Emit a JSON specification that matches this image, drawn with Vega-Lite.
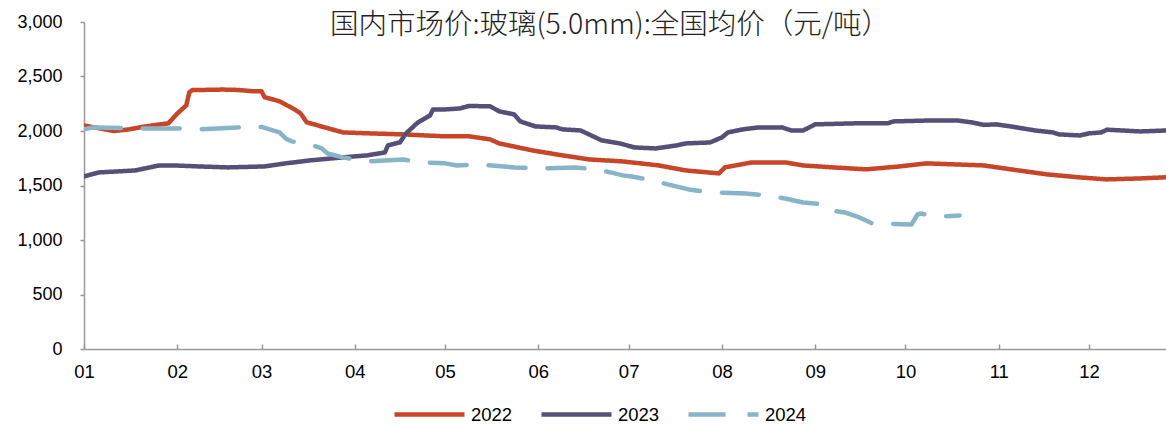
{
  "$schema": "https://vega.github.io/schema/vega-lite/v6.json",
  "width": 1082,
  "height": 327,
  "autosize": {"type": "none"},
  "padding": {"left": 84, "top": 22, "right": 0, "bottom": 75},
  "background": "white",
  "config": {"view": {"stroke": null}, "font": "Liberation Sans"},
  "title": {
    "text": "国内市场价:玻璃(5.0mm):全国均价（元/吨）",
    "anchor": "middle",
    "frame": "group",
    "offset": -26,
    "dx": -15,
    "font": "Noto Sans CJK SC",
    "fontSize": 28.5,
    "fontWeight": 300,
    "color": "#222222"
  },
  "data": {
    "values": [
      {"year": "2022", "date": "2022-01-01", "price": 2050},
      {"year": "2022", "date": "2022-01-06", "price": 2025},
      {"year": "2022", "date": "2022-01-11", "price": 2000},
      {"year": "2022", "date": "2022-01-16", "price": 2015},
      {"year": "2022", "date": "2022-01-21", "price": 2040},
      {"year": "2022", "date": "2022-01-26", "price": 2060},
      {"year": "2022", "date": "2022-01-29", "price": 2070},
      {"year": "2022", "date": "2022-02-01", "price": 2160},
      {"year": "2022", "date": "2022-02-04", "price": 2235},
      {"year": "2022", "date": "2022-02-05", "price": 2355},
      {"year": "2022", "date": "2022-02-06", "price": 2375},
      {"year": "2022", "date": "2022-02-16", "price": 2380},
      {"year": "2022", "date": "2022-02-21", "price": 2377},
      {"year": "2022", "date": "2022-02-26", "price": 2365},
      {"year": "2022", "date": "2022-03-01", "price": 2364},
      {"year": "2022", "date": "2022-03-02", "price": 2310},
      {"year": "2022", "date": "2022-03-07", "price": 2272},
      {"year": "2022", "date": "2022-03-12", "price": 2198},
      {"year": "2022", "date": "2022-03-14", "price": 2161},
      {"year": "2022", "date": "2022-03-16", "price": 2080},
      {"year": "2022", "date": "2022-03-22", "price": 2033},
      {"year": "2022", "date": "2022-03-28", "price": 1987},
      {"year": "2022", "date": "2022-04-06", "price": 1978},
      {"year": "2022", "date": "2022-04-17", "price": 1969},
      {"year": "2022", "date": "2022-05-01", "price": 1951},
      {"year": "2022", "date": "2022-05-09", "price": 1951},
      {"year": "2022", "date": "2022-05-16", "price": 1923},
      {"year": "2022", "date": "2022-05-19", "price": 1886},
      {"year": "2022", "date": "2022-05-30", "price": 1822},
      {"year": "2022", "date": "2022-06-07", "price": 1785},
      {"year": "2022", "date": "2022-06-18", "price": 1739},
      {"year": "2022", "date": "2022-06-29", "price": 1721},
      {"year": "2022", "date": "2022-07-11", "price": 1684},
      {"year": "2022", "date": "2022-07-20", "price": 1638},
      {"year": "2022", "date": "2022-07-31", "price": 1611},
      {"year": "2022", "date": "2022-08-02", "price": 1666},
      {"year": "2022", "date": "2022-08-11", "price": 1712},
      {"year": "2022", "date": "2022-08-22", "price": 1712},
      {"year": "2022", "date": "2022-08-28", "price": 1684},
      {"year": "2022", "date": "2022-09-07", "price": 1666},
      {"year": "2022", "date": "2022-09-18", "price": 1648},
      {"year": "2022", "date": "2022-09-29", "price": 1675},
      {"year": "2022", "date": "2022-10-08", "price": 1703},
      {"year": "2022", "date": "2022-10-17", "price": 1694},
      {"year": "2022", "date": "2022-10-27", "price": 1684},
      {"year": "2022", "date": "2022-11-05", "price": 1648},
      {"year": "2022", "date": "2022-11-17", "price": 1602},
      {"year": "2022", "date": "2022-11-28", "price": 1574},
      {"year": "2022", "date": "2022-12-07", "price": 1556},
      {"year": "2022", "date": "2022-12-18", "price": 1565},
      {"year": "2022", "date": "2022-12-27", "price": 1576},
      {"year": "2023", "date": "2022-01-01", "price": 1583},
      {"year": "2023", "date": "2022-01-06", "price": 1620},
      {"year": "2023", "date": "2022-01-18", "price": 1638},
      {"year": "2023", "date": "2022-01-26", "price": 1684},
      {"year": "2023", "date": "2022-01-31", "price": 1684},
      {"year": "2023", "date": "2022-02-08", "price": 1675},
      {"year": "2023", "date": "2022-02-18", "price": 1666},
      {"year": "2023", "date": "2022-03-02", "price": 1675},
      {"year": "2023", "date": "2022-03-09", "price": 1703},
      {"year": "2023", "date": "2022-03-17", "price": 1730},
      {"year": "2023", "date": "2022-03-28", "price": 1758},
      {"year": "2023", "date": "2022-04-05", "price": 1776},
      {"year": "2023", "date": "2022-04-11", "price": 1803},
      {"year": "2023", "date": "2022-04-12", "price": 1868},
      {"year": "2023", "date": "2022-04-16", "price": 1895},
      {"year": "2023", "date": "2022-04-18", "price": 1978},
      {"year": "2023", "date": "2022-04-22", "price": 2079},
      {"year": "2023", "date": "2022-04-26", "price": 2143},
      {"year": "2023", "date": "2022-04-27", "price": 2198},
      {"year": "2023", "date": "2022-05-01", "price": 2198},
      {"year": "2023", "date": "2022-05-06", "price": 2207},
      {"year": "2023", "date": "2022-05-09", "price": 2230},
      {"year": "2023", "date": "2022-05-16", "price": 2226},
      {"year": "2023", "date": "2022-05-19", "price": 2180},
      {"year": "2023", "date": "2022-05-24", "price": 2152},
      {"year": "2023", "date": "2022-05-26", "price": 2088},
      {"year": "2023", "date": "2022-05-31", "price": 2042},
      {"year": "2023", "date": "2022-06-07", "price": 2033},
      {"year": "2023", "date": "2022-06-09", "price": 2015},
      {"year": "2023", "date": "2022-06-15", "price": 2005},
      {"year": "2023", "date": "2022-06-20", "price": 1941},
      {"year": "2023", "date": "2022-06-22", "price": 1914},
      {"year": "2023", "date": "2022-06-28", "price": 1886},
      {"year": "2023", "date": "2022-07-03", "price": 1849},
      {"year": "2023", "date": "2022-07-10", "price": 1840},
      {"year": "2023", "date": "2022-07-17", "price": 1868},
      {"year": "2023", "date": "2022-07-20", "price": 1886},
      {"year": "2023", "date": "2022-07-28", "price": 1895},
      {"year": "2023", "date": "2022-08-01", "price": 1941},
      {"year": "2023", "date": "2022-08-03", "price": 1987},
      {"year": "2023", "date": "2022-08-08", "price": 2015},
      {"year": "2023", "date": "2022-08-13", "price": 2033},
      {"year": "2023", "date": "2022-08-21", "price": 2033},
      {"year": "2023", "date": "2022-08-24", "price": 2005},
      {"year": "2023", "date": "2022-08-28", "price": 2005},
      {"year": "2023", "date": "2022-08-30", "price": 2033},
      {"year": "2023", "date": "2022-09-01", "price": 2061},
      {"year": "2023", "date": "2022-09-14", "price": 2070},
      {"year": "2023", "date": "2022-09-25", "price": 2070},
      {"year": "2023", "date": "2022-09-27", "price": 2088},
      {"year": "2023", "date": "2022-10-10", "price": 2097},
      {"year": "2023", "date": "2022-10-18", "price": 2097},
      {"year": "2023", "date": "2022-10-23", "price": 2079},
      {"year": "2023", "date": "2022-10-27", "price": 2056},
      {"year": "2023", "date": "2022-10-31", "price": 2061},
      {"year": "2023", "date": "2022-11-05", "price": 2042},
      {"year": "2023", "date": "2022-11-13", "price": 2005},
      {"year": "2023", "date": "2022-11-19", "price": 1987},
      {"year": "2023", "date": "2022-11-21", "price": 1969},
      {"year": "2023", "date": "2022-11-28", "price": 1959},
      {"year": "2023", "date": "2022-12-01", "price": 1978},
      {"year": "2023", "date": "2022-12-05", "price": 1987},
      {"year": "2023", "date": "2022-12-07", "price": 2012},
      {"year": "2023", "date": "2022-12-18", "price": 1996},
      {"year": "2023", "date": "2022-12-27", "price": 2005},
      {"year": "2024", "date": "2022-01-01", "price": 2015},
      {"year": "2024", "date": "2022-01-04", "price": 2033},
      {"year": "2024", "date": "2022-01-20", "price": 2024},
      {"year": "2024", "date": "2022-02-01", "price": 2024},
      {"year": "2024", "date": "2022-02-09", "price": 2015},
      {"year": "2024", "date": "2022-02-21", "price": 2033},
      {"year": "2024", "date": "2022-03-01", "price": 2038},
      {"year": "2024", "date": "2022-03-07", "price": 1987},
      {"year": "2024", "date": "2022-03-09", "price": 1932},
      {"year": "2024", "date": "2022-03-11", "price": 1905},
      {"year": "2024", "date": "2022-03-17", "price": 1877},
      {"year": "2024", "date": "2022-03-21", "price": 1840},
      {"year": "2024", "date": "2022-03-23", "price": 1794},
      {"year": "2024", "date": "2022-03-28", "price": 1758},
      {"year": "2024", "date": "2022-04-05", "price": 1721},
      {"year": "2024", "date": "2022-04-17", "price": 1739},
      {"year": "2024", "date": "2022-04-23", "price": 1712},
      {"year": "2024", "date": "2022-05-01", "price": 1703},
      {"year": "2024", "date": "2022-05-05", "price": 1684},
      {"year": "2024", "date": "2022-05-12", "price": 1694},
      {"year": "2024", "date": "2022-05-24", "price": 1666},
      {"year": "2024", "date": "2022-06-01", "price": 1657},
      {"year": "2024", "date": "2022-06-13", "price": 1666},
      {"year": "2024", "date": "2022-06-20", "price": 1648},
      {"year": "2024", "date": "2022-06-25", "price": 1620},
      {"year": "2024", "date": "2022-06-29", "price": 1593},
      {"year": "2024", "date": "2022-07-02", "price": 1583},
      {"year": "2024", "date": "2022-07-09", "price": 1547},
      {"year": "2024", "date": "2022-07-14", "price": 1510},
      {"year": "2024", "date": "2022-07-21", "price": 1464},
      {"year": "2024", "date": "2022-07-28", "price": 1436},
      {"year": "2024", "date": "2022-08-09", "price": 1427},
      {"year": "2024", "date": "2022-08-16", "price": 1409},
      {"year": "2024", "date": "2022-08-22", "price": 1381},
      {"year": "2024", "date": "2022-08-28", "price": 1344},
      {"year": "2024", "date": "2022-09-04", "price": 1326},
      {"year": "2024", "date": "2022-09-06", "price": 1271},
      {"year": "2024", "date": "2022-09-11", "price": 1252},
      {"year": "2024", "date": "2022-09-15", "price": 1215},
      {"year": "2024", "date": "2022-09-20", "price": 1151},
      {"year": "2024", "date": "2022-10-03", "price": 1142},
      {"year": "2024", "date": "2022-10-05", "price": 1234},
      {"year": "2024", "date": "2022-10-06", "price": 1243},
      {"year": "2024", "date": "2022-10-12", "price": 1215},
      {"year": "2024", "date": "2022-10-19", "price": 1225}
    ]
  },
  "mark": {"type": "line", "strokeWidth": 4.5, "strokeCap": "round", "strokeJoin": "round", "clip": true},
  "encoding": {
    "x": {
      "field": "date",
      "type": "temporal",
      "scale": {
        "type": "utc",
        "domain": [
          {"year": 2022, "month": 1, "date": 1, "utc": true},
          {"year": 2022, "month": 12, "date": 26, "hours": 14, "utc": true}
        ]
      },
      "axis": {
        "title": null,
        "grid": false,
        "labelExpr": "utcFormat(datum.value, '%m')",
        "values": [
          {"year": 2022, "month": 1, "date": 1, "utc": true},
          {"year": 2022, "month": 2, "date": 1, "utc": true},
          {"year": 2022, "month": 3, "date": 1, "utc": true},
          {"year": 2022, "month": 4, "date": 1, "utc": true},
          {"year": 2022, "month": 5, "date": 1, "utc": true},
          {"year": 2022, "month": 6, "date": 1, "utc": true},
          {"year": 2022, "month": 7, "date": 1, "utc": true},
          {"year": 2022, "month": 8, "date": 1, "utc": true},
          {"year": 2022, "month": 9, "date": 1, "utc": true},
          {"year": 2022, "month": 10, "date": 1, "utc": true},
          {"year": 2022, "month": 11, "date": 1, "utc": true},
          {"year": 2022, "month": 12, "date": 1, "utc": true}
        ],
        "domainColor": "#999999",
        "domainWidth": 1.5,
        "tickColor": "#999999",
        "tickWidth": 1.5,
        "tickSize": -5,
        "labelFontSize": 18.5,
        "labelColor": "#000000",
        "labelPadding": 18,
        "labelFlush": false,
        "labelOverlap": false
      }
    },
    "y": {
      "field": "price",
      "type": "quantitative",
      "scale": {"domain": [0, 3000]},
      "axis": {
        "title": null,
        "grid": false,
        "values": [0, 500, 1000, 1500, 2000, 2500, 3000],
        "labelExpr": "format(datum.value, ',.0f')",
        "domainColor": "#999999",
        "domainWidth": 1.5,
        "tickColor": "#999999",
        "tickWidth": 1.5,
        "tickSize": 4,
        "labelFontSize": 18,
        "labelColor": "#000000",
        "labelPadding": 18,
        "labelFlush": false,
        "labelOverlap": false
      }
    },
    "color": {
      "field": "year",
      "type": "nominal",
      "scale": {"domain": ["2022", "2023", "2024"], "range": ["#C84628", "#565078", "#87B4C8"]},
      "legend": {
        "title": null,
        "orient": "none",
        "legendX": 308,
        "legendY": 355,
        "direction": "horizontal",
        "symbolType": "stroke",
        "symbolSize": 4900,
        "symbolStrokeWidth": 4.5,
        "labelFontSize": 18.5,
        "labelColor": "#000000",
        "labelOffset": 4,
        "columnPadding": 19
      }
    },
    "strokeDash": {
      "field": "year",
      "type": "nominal",
      "scale": {"domain": ["2022", "2023", "2024"], "range": [[1, 0], [1, 0], [37, 22]]},
      "legend": {
        "title": null,
        "orient": "none",
        "legendX": 308,
        "legendY": 355,
        "direction": "horizontal",
        "symbolType": "stroke",
        "symbolSize": 4900,
        "symbolStrokeWidth": 4.5,
        "labelFontSize": 18.5,
        "labelColor": "#000000",
        "labelOffset": 4,
        "columnPadding": 19
      }
    }
  }
}
